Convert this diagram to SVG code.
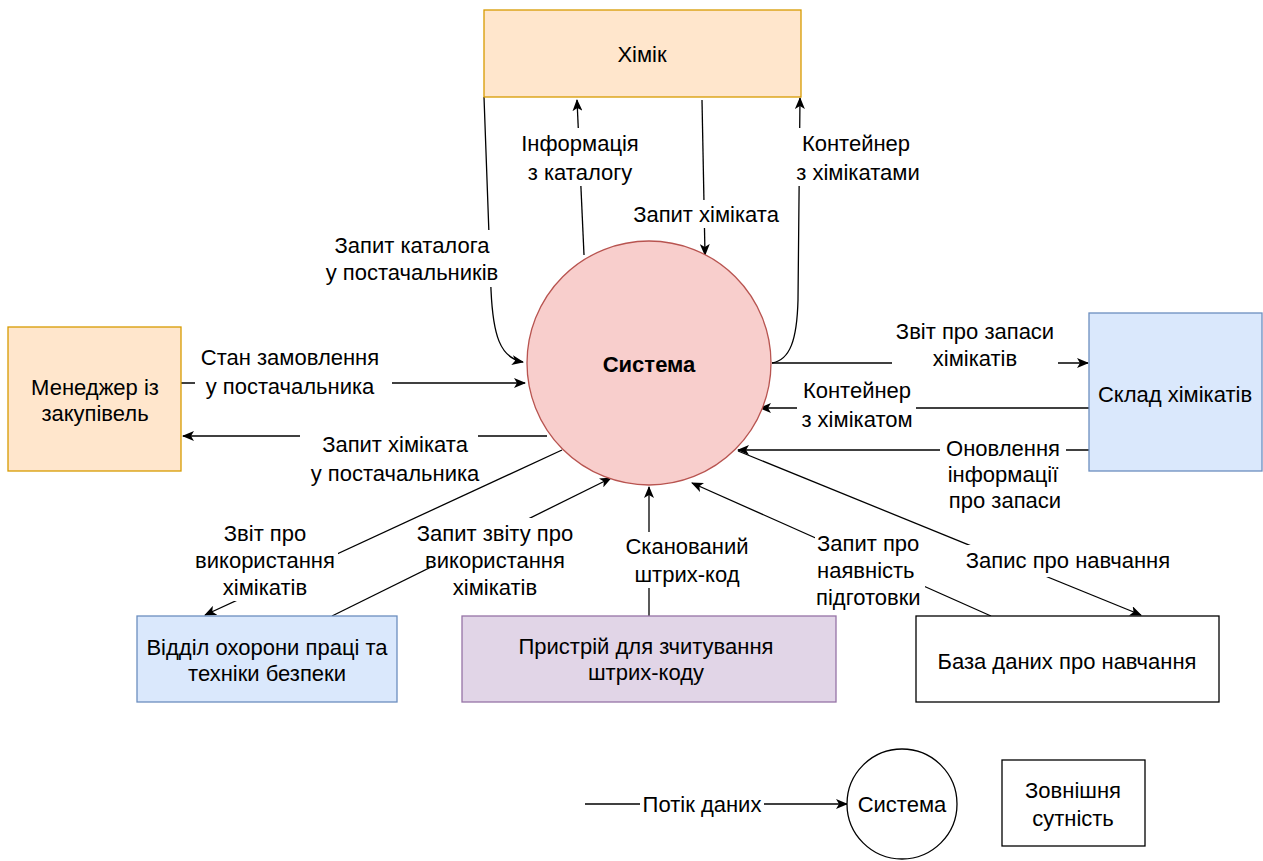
<svg xmlns="http://www.w3.org/2000/svg" width="1263" height="861" viewBox="0 0 1263 861">
<style>
text{font-family:"Liberation Sans",Arial,sans-serif;font-size:22px;fill:#000;text-anchor:middle;dominant-baseline:central}
.b{font-weight:bold}
.l{text-anchor:start}
.c{fill:none;stroke:#000;stroke-width:1.3}
.bg{fill:#fff;stroke:none}
.or{fill:#ffe6cc;stroke:#d79b00;stroke-width:1.3}
.bl{fill:#dae8fc;stroke:#6c8ebf;stroke-width:1.3}
.pu{fill:#e1d5e7;stroke:#9673a6;stroke-width:1.3}
.wh{fill:#fff;stroke:#000;stroke-width:1.3}
</style>
<defs>
<marker id="a" viewBox="0 0 12 10" refX="11" refY="5" markerWidth="12" markerHeight="10" markerUnits="userSpaceOnUse" orient="auto">
<path d="M0,0 L12,5 L0,10 L3,5 z" fill="#000"/>
</marker>
</defs>
<rect width="1263" height="861" fill="#fff"/>
<g id="connectors">
<path class="c" d="M484,97 L491,290 C493,335 500,358 523,362" marker-end="url(#a)"/>
<path class="c" d="M584,255 L577,100" marker-end="url(#a)"/>
<path class="c" d="M702,100 L705,255" marker-end="url(#a)"/>
<path class="c" d="M772,363 C790,360 797,340 798,300 L800,98" marker-end="url(#a)"/>
<path class="c" d="M772,363 L1088,363" marker-end="url(#a)"/>
<path class="c" d="M1089,408 L760,408" marker-end="url(#a)"/>
<path class="c" d="M1089,450 L738,450" marker-end="url(#a)"/>
<path class="c" d="M181,383 L525,383" marker-end="url(#a)"/>
<path class="c" d="M547,436 L183,436" marker-end="url(#a)"/>
<path class="c" d="M562,450 L205,615" marker-end="url(#a)"/>
<path class="c" d="M332,616 L611,478" marker-end="url(#a)"/>
<path class="c" d="M649,616 L649,487" marker-end="url(#a)"/>
<path class="c" d="M991,616 L692,483" marker-end="url(#a)"/>
<path class="c" d="M738,451 L1141,615" marker-end="url(#a)"/>
<path class="c" d="M585,804 L847,804" marker-end="url(#a)"/>
</g>
<g id="labels">
<rect class="bg" x="322" y="230" width="181" height="57"/>
<text x="412" y="245">Запит каталога</text><text x="412" y="272">у постачальників</text>
<rect class="bg" x="518" y="128" width="124" height="58"/>
<text x="580" y="143">Інформація</text><text x="580" y="172">з каталогу</text>
<rect class="bg" x="629" y="200" width="155" height="28"/>
<text x="706" y="214">Запит хіміката</text>
<rect class="bg" x="795" y="128" width="130" height="58"/>
<text x="856" y="143">Контейнер</text><text x="858" y="172">з хімікатами</text>
<rect class="bg" x="892" y="316" width="166" height="58"/>
<text x="975" y="331">Звіт про запаси</text><text x="975" y="358">хімікатів</text>
<rect class="bg" x="797" y="377" width="119" height="56"/>
<text x="857" y="390">Контейнер</text><text x="857" y="419">з хімікатом</text>
<rect class="bg" x="940" y="436" width="126" height="76"/>
<text x="1003" y="448">Оновлення</text><text x="1003" y="474">інформації</text><text x="1005" y="500">про запаси</text>
<rect class="bg" x="195" y="343" width="197" height="56"/>
<text x="290" y="357">Стан замовлення</text><text x="290" y="386">у постачальника</text>
<rect class="bg" x="300" y="430" width="178" height="57"/>
<text x="395" y="444">Запит хіміката</text><text x="395" y="473">у постачальника</text>
<rect class="bg" x="190" y="518" width="148" height="83"/>
<text x="265" y="533">Звіт про</text><text x="265" y="560">використання</text><text x="265" y="587">хімікатів</text>
<rect class="bg" x="432" y="518" width="163" height="83"/>
<text x="495" y="533">Запит звіту про</text><text x="495" y="560">використання</text><text x="495" y="587">хімікатів</text>
<rect class="bg" x="620" y="532" width="132" height="56"/>
<text x="687" y="546">Сканований</text><text x="687" y="574">штрих-код</text>
<rect class="bg" x="815" y="530" width="110" height="82"/>
<text class="l" x="817" y="543">Запит про</text><text class="l" x="817" y="570">наявність</text><text class="l" x="816" y="597">підготовки</text>
<rect class="bg" x="960" y="545" width="217" height="32"/>
<text x="1068" y="560">Запис про навчання</text>
<rect class="bg" x="640" y="792" width="124" height="24"/>
<text x="702" y="804">Потік даних</text>
</g>
<g id="n-chemist">
<rect class="or" x="484" y="10" width="317" height="87"/>
<text x="642" y="54">Хімік</text>
</g>
<g id="n-system">
<circle cx="649" cy="363" r="122" fill="#f8cecc" stroke="#b85450" stroke-width="1.3"/>
<text class="b" x="649" y="364">Система</text>
</g>
<g id="n-manager">
<rect class="or" x="8" y="327" width="173" height="144"/>
<text x="95" y="387">Менеджер із</text><text x="95" y="413">закупівель</text>
</g>
<g id="n-warehouse">
<rect class="bl" x="1089" y="313" width="173" height="158"/>
<text x="1175" y="394">Склад хімікатів</text>
</g>
<g id="n-safety">
<rect class="bl" x="137" y="616" width="260" height="86"/>
<text x="267" y="647">Відділ охорони праці та</text><text x="267" y="673">техніки безпеки</text>
</g>
<g id="n-scanner">
<rect class="pu" x="462" y="616" width="374" height="86"/>
<text x="646" y="646">Пристрій для зчитування</text><text x="646" y="672">штрих-коду</text>
</g>
<g id="n-training">
<rect class="wh" x="916" y="616" width="303" height="86"/>
<text x="1067" y="661">База даних про навчання</text>
</g>
<g id="legend-system">
<circle cx="902" cy="804" r="55" fill="#fff" stroke="#000" stroke-width="1.3"/>
<text x="902" y="804">Система</text>
</g>
<g id="legend-entity">
<rect class="wh" x="1002" y="760" width="143" height="86"/>
<text x="1073" y="790">Зовнішня</text><text x="1073" y="818">сутність</text>
</g>
</svg>
